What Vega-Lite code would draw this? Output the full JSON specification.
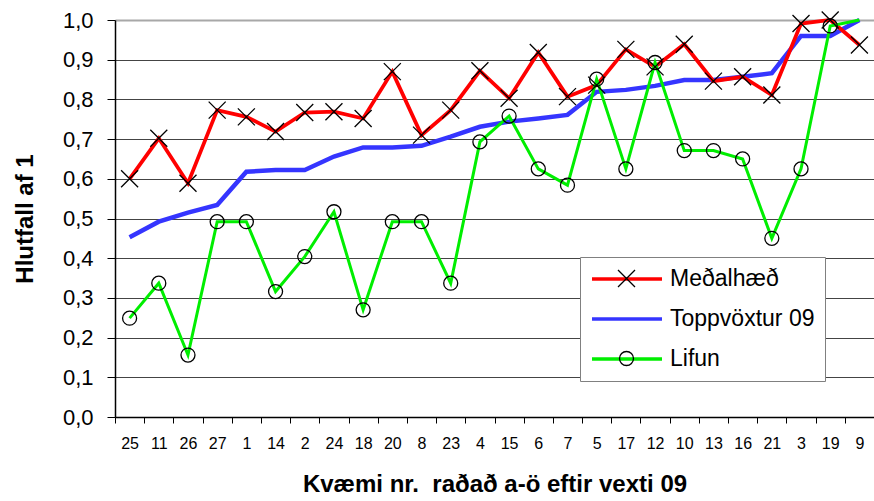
{
  "$schema": "https://vega.github.io/schema/vega-lite/v6.json",
  "width": 759,
  "height": 397,
  "autosize": "none",
  "padding": {"left": 115, "top": 20, "right": 0, "bottom": 84},
  "config": {"font": "Liberation Sans", "view": {"stroke": null}},
  "data": {
    "values": [
      {"k": "25", "Meðalhæð": 0.600, "Toppvöxtur 09": 0.453, "Lifun": 0.249},
      {"k": "11", "Meðalhæð": 0.702, "Toppvöxtur 09": 0.492, "Lifun": 0.337},
      {"k": "26", "Meðalhæð": 0.589, "Toppvöxtur 09": 0.515, "Lifun": 0.156},
      {"k": "27", "Meðalhæð": 0.773, "Toppvöxtur 09": 0.534, "Lifun": 0.492},
      {"k": "1", "Meðalhæð": 0.756, "Toppvöxtur 09": 0.618, "Lifun": 0.492},
      {"k": "14", "Meðalhæð": 0.719, "Toppvöxtur 09": 0.622, "Lifun": 0.316},
      {"k": "2", "Meðalhæð": 0.767, "Toppvöxtur 09": 0.622, "Lifun": 0.404},
      {"k": "24", "Meðalhæð": 0.769, "Toppvöxtur 09": 0.656, "Lifun": 0.517},
      {"k": "18", "Meðalhæð": 0.752, "Toppvöxtur 09": 0.679, "Lifun": 0.270},
      {"k": "20", "Meðalhæð": 0.870, "Toppvöxtur 09": 0.679, "Lifun": 0.492},
      {"k": "8", "Meðalhæð": 0.710, "Toppvöxtur 09": 0.683, "Lifun": 0.492},
      {"k": "23", "Meðalhæð": 0.773, "Toppvöxtur 09": 0.706, "Lifun": 0.337},
      {"k": "4", "Meðalhæð": 0.872, "Toppvöxtur 09": 0.731, "Lifun": 0.693},
      {"k": "15", "Meðalhæð": 0.803, "Toppvöxtur 09": 0.744, "Lifun": 0.758},
      {"k": "6", "Meðalhæð": 0.918, "Toppvöxtur 09": 0.752, "Lifun": 0.625},
      {"k": "7", "Meðalhæð": 0.807, "Toppvöxtur 09": 0.761, "Lifun": 0.584},
      {"k": "5", "Meðalhæð": 0.836, "Toppvöxtur 09": 0.819, "Lifun": 0.851},
      {"k": "17", "Meðalhæð": 0.926, "Toppvöxtur 09": 0.824, "Lifun": 0.625},
      {"k": "12", "Meðalhæð": 0.882, "Toppvöxtur 09": 0.834, "Lifun": 0.893},
      {"k": "10", "Meðalhæð": 0.939, "Toppvöxtur 09": 0.849, "Lifun": 0.671},
      {"k": "13", "Meðalhæð": 0.846, "Toppvöxtur 09": 0.849, "Lifun": 0.671},
      {"k": "16", "Meðalhæð": 0.857, "Toppvöxtur 09": 0.857, "Lifun": 0.650},
      {"k": "21", "Meðalhæð": 0.811, "Toppvöxtur 09": 0.866, "Lifun": 0.450},
      {"k": "3", "Meðalhæð": 0.991, "Toppvöxtur 09": 0.960, "Lifun": 0.625},
      {"k": "19", "Meðalhæð": 1.000, "Toppvöxtur 09": 0.960, "Lifun": 0.985},
      {"k": "9", "Meðalhæð": 0.937, "Toppvöxtur 09": 1.000, "Lifun": 1.000}
    ]
  },
  "transform": [
    {"fold": ["Toppvöxtur 09", "Meðalhæð", "Lifun"], "as": ["series", "value"]}
  ],
  "encoding": {
    "x": {
      "field": "k",
      "type": "nominal",
      "sort": null,
      "scale": {"type": "band", "paddingInner": 0, "paddingOuter": 0},
      "axis": {
        "title": "Kvæmi nr.\u00a0 raðað a-ö eftir vexti 09",
        "labelAngle": 0,
        "labelFontSize": 16,
        "labelColor": "#000",
        "labelBaseline": "alphabetic",
        "labelPadding": 25,
        "tickBand": "extent",
        "tickSize": 6,
        "tickColor": "#000",
        "domainColor": "#000",
        "domainWidth": 1.5,
        "grid": false,
        "titleFontSize": 24,
        "titleFontWeight": "bold",
        "titleColor": "#000",
        "titleBaseline": "alphabetic",
        "titleY": 74
      }
    },
    "y": {
      "field": "value",
      "type": "quantitative",
      "scale": {"domain": [0, 1], "nice": false},
      "axis": {
        "title": "Hlutfall af 1",
        "values": [0, 0.1, 0.2, 0.3, 0.4, 0.5, 0.6, 0.7, 0.8, 0.9, 1],
        "labelExpr": "replace(format(datum.value, '.1f'), '.', ',')",
        "labelFontSize": 22,
        "labelColor": "#000",
        "labelPadding": 14,
        "tickSize": 8,
        "tickColor": "#000",
        "domainColor": "#000",
        "domainWidth": 1.5,
        "gridColor": {"condition": {"test": "datum.value === 1", "value": "#a8a8a8"}, "value": "#444444"},
        "gridWidth": {"condition": {"test": "datum.value === 1", "value": 2}, "value": 1},
        "titleFontSize": 24,
        "titleFontWeight": "bold",
        "titleColor": "#000",
        "titleAngle": -90,
        "titleBaseline": "alphabetic",
        "titleAlign": "center",
        "titleX": -83,
        "titleY": 198.5
      }
    }
  },
  "layer": [
    {
      "mark": {"type": "line"},
      "encoding": {
        "color": {
          "field": "series",
          "type": "nominal",
          "sort": ["Meðalhæð", "Toppvöxtur 09", "Lifun"],
          "scale": {"range": ["#ff0000", "#3535ff", "#00ee00"]},
          "legend": {
            "title": null,
            "orient": "none",
            "legendX": 465,
            "legendY": 237,
            "symbolType": "M-3.5,0H3.5",
            "symbolSize": 400,
            "symbolOffset": 25,
            "symbolStrokeWidth": 3.5,
            "labelFontSize": 23,
            "labelColor": "#000",
            "labelOffset": 31,
            "labelLimit": 300,
            "rowPadding": 16,
            "padding": 10,
            "fillColor": "#ffffff",
            "strokeColor": "#808080",
            "zindex": 1
          }
        },
        "strokeWidth": {
          "field": "series",
          "type": "nominal",
          "scale": {"domain": ["Toppvöxtur 09", "Meðalhæð", "Lifun"], "range": [4.5, 3, 3]},
          "legend": null
        }
      }
    },
    {
      "transform": [
        {"filter": "datum.series !== 'Toppvöxtur 09' && !(datum.series === 'Lifun' && datum.k === '9')"}
      ],
      "mark": {"type": "point", "filled": false, "stroke": "#000", "strokeWidth": 1.3, "size": 400, "opacity": 1},
      "encoding": {
        "shape": {
          "field": "series",
          "type": "nominal",
          "scale": {
            "domain": ["Meðalhæð", "Toppvöxtur 09", "Lifun"],
            "range": [
              "M-0.85,-0.85L0.85,0.85M-0.85,0.85L0.85,-0.85",
              "M0,0",
              "M0.7,0A0.7,0.7,0,1,1,-0.7,0A0.7,0.7,0,1,1,0.7,0Z"
            ]
          },
          "legend": {
            "title": null,
            "orient": "none",
            "legendX": 465,
            "legendY": 237,
            "symbolSize": 400,
            "symbolOffset": 25,
            "symbolStrokeWidth": 1.3,
            "symbolStrokeColor": "#000",
            "symbolFillColor": "transparent",
            "labelFontSize": 23,
            "labelOpacity": 0,
            "labelOffset": 31,
            "labelLimit": 300,
            "rowPadding": 16,
            "padding": 10,
            "zindex": 2
          }
        }
      }
    }
  ]
}
